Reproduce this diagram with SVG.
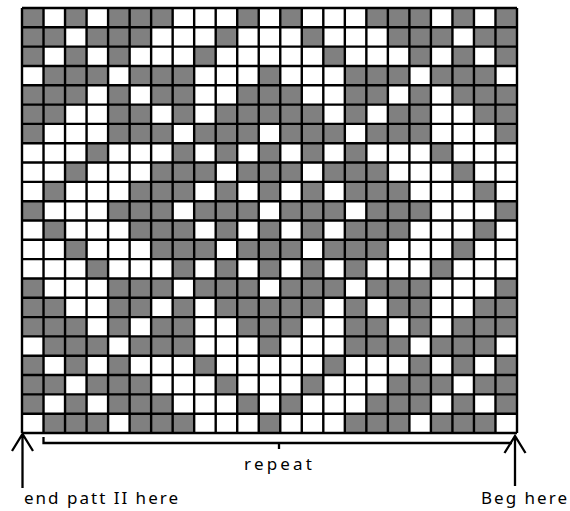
<svg xmlns="http://www.w3.org/2000/svg" xmlns:xlink="http://www.w3.org/1999/xlink" width="570" height="511" viewBox="0 0 570 511">
<style>
.g{fill:#808080}
.grid{fill:none;stroke:#000;stroke-width:2.4}
.ln{fill:none;stroke:#000;stroke-width:2.3}
.t{font-family:"Noto Sans","Open Sans","Liberation Sans",sans-serif;font-size:17px;fill:#000}
</style>
<defs>
<g id="rA" class="g"><rect x="0" width="1" height="1"/><rect x="2" width="1" height="1"/><rect x="4" width="3" height="1"/><rect x="10" width="1" height="1"/><rect x="12" width="1" height="1"/><rect x="16" width="3" height="1"/><rect x="20" width="1" height="1"/><rect x="22" width="1" height="1"/></g>
<g id="rB" class="g"><rect x="0" width="2" height="1"/><rect x="3" width="3" height="1"/><rect x="9" width="1" height="1"/><rect x="13" width="1" height="1"/><rect x="17" width="3" height="1"/><rect x="21" width="2" height="1"/></g>
<g id="rC" class="g"><rect x="0" width="1" height="1"/><rect x="2" width="1" height="1"/><rect x="4" width="1" height="1"/><rect x="8" width="1" height="1"/><rect x="14" width="1" height="1"/><rect x="18" width="1" height="1"/><rect x="20" width="1" height="1"/><rect x="22" width="1" height="1"/></g>
<g id="rD" class="g"><rect x="1" width="3" height="1"/><rect x="5" width="3" height="1"/><rect x="11" width="1" height="1"/><rect x="15" width="3" height="1"/><rect x="19" width="3" height="1"/></g>
<g id="rE" class="g"><rect x="0" width="3" height="1"/><rect x="4" width="1" height="1"/><rect x="6" width="2" height="1"/><rect x="10" width="3" height="1"/><rect x="15" width="2" height="1"/><rect x="18" width="1" height="1"/><rect x="20" width="3" height="1"/></g>
<g id="rF" class="g"><rect x="0" width="2" height="1"/><rect x="4" width="2" height="1"/><rect x="7" width="1" height="1"/><rect x="9" width="5" height="1"/><rect x="15" width="1" height="1"/><rect x="17" width="2" height="1"/><rect x="21" width="2" height="1"/></g>
<g id="rG" class="g"><rect x="0" width="1" height="1"/><rect x="4" width="3" height="1"/><rect x="8" width="3" height="1"/><rect x="12" width="3" height="1"/><rect x="16" width="3" height="1"/><rect x="22" width="1" height="1"/></g>
<g id="rH" class="g"><rect x="3" width="1" height="1"/><rect x="7" width="1" height="1"/><rect x="9" width="1" height="1"/><rect x="11" width="1" height="1"/><rect x="13" width="1" height="1"/><rect x="15" width="1" height="1"/><rect x="19" width="1" height="1"/></g>
<g id="rI" class="g"><rect x="2" width="1" height="1"/><rect x="6" width="3" height="1"/><rect x="10" width="3" height="1"/><rect x="14" width="3" height="1"/><rect x="20" width="1" height="1"/></g>
<g id="rJ" class="g"><rect x="1" width="1" height="1"/><rect x="5" width="3" height="1"/><rect x="9" width="1" height="1"/><rect x="11" width="1" height="1"/><rect x="13" width="1" height="1"/><rect x="15" width="3" height="1"/><rect x="21" width="1" height="1"/></g>
</defs>
<rect width="570" height="511" fill="#fff"/>
<g id="cells" transform="translate(22,8) scale(21.5217,19.3182)">
<use xlink:href="#rA" y="0"/>
<use xlink:href="#rB" y="1"/>
<use xlink:href="#rC" y="2"/>
<use xlink:href="#rD" y="3"/>
<use xlink:href="#rE" y="4"/>
<use xlink:href="#rF" y="5"/>
<use xlink:href="#rG" y="6"/>
<use xlink:href="#rH" y="7"/>
<use xlink:href="#rI" y="8"/>
<use xlink:href="#rJ" y="9"/>
<use xlink:href="#rG" y="10"/>
<use xlink:href="#rJ" y="11"/>
<use xlink:href="#rI" y="12"/>
<use xlink:href="#rH" y="13"/>
<use xlink:href="#rG" y="14"/>
<use xlink:href="#rF" y="15"/>
<use xlink:href="#rE" y="16"/>
<use xlink:href="#rD" y="17"/>
<use xlink:href="#rC" y="18"/>
<use xlink:href="#rB" y="19"/>
<use xlink:href="#rA" y="20"/>
<use xlink:href="#rD" y="21"/>
</g>
<g id="gridlines">
<path class="grid" d="M22,8V433M43.52,8V433M65.04,8V433M86.57,8V433M108.09,8V433M129.61,8V433M151.13,8V433M172.65,8V433M194.17,8V433M215.7,8V433M237.22,8V433M258.74,8V433M280.26,8V433M301.78,8V433M323.3,8V433M344.83,8V433M366.35,8V433M387.87,8V433M409.39,8V433M430.91,8V433M452.43,8V433M473.96,8V433M495.48,8V433M517,8V433
M22,8H517M22,27.32H517M22,46.64H517M22,65.95H517M22,85.27H517M22,104.59H517M22,123.91H517M22,143.23H517M22,162.55H517M22,181.86H517M22,201.18H517M22,220.5H517M22,239.82H517M22,259.14H517M22,278.45H517M22,297.77H517M22,317.09H517M22,336.41H517M22,355.73H517M22,375.05H517M22,394.36H517M22,413.68H517M22,433H517"/>
</g>
<g id="connectors">
<path class="ln" d="M22.5,434V488M12,451L22.5,434L33,451"/>
<path class="ln" d="M515,436V486M504.5,453L515,436L525.5,453"/>
<path class="ln" d="M43.5,437V443H512M279,443V449"/>
</g>
<g id="labels">
<text class="t" x="244" y="470" textLength="68" lengthAdjust="spacing">repeat</text>
<text class="t" x="24" y="504" textLength="154" lengthAdjust="spacing">end patt II here</text>
<text class="t" x="481" y="504" textLength="86" lengthAdjust="spacing">Beg here</text>
</g>
</svg>
